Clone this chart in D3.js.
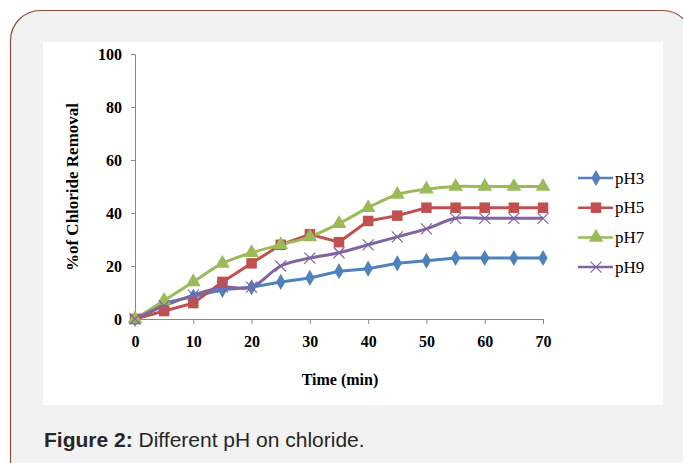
<!DOCTYPE html>
<html><head><meta charset="utf-8">
<script src="https://cdn.jsdelivr.net/npm/d3@7/dist/d3.min.js"></script>
<style>
html,body{margin:0;padding:0;background:#fff;}
svg{display:block;}
</style></head>
<body>
<svg id="chart" width="683" height="463"></svg>
<script>
const times = [0,5,10,15,20,25,30,35,40,45,50,55,60,65,70];
const pH3 = [0,6,8.5,11,12,14,15.5,18,19,21,22,23,23,23,23];
const pH5 = [0,3,6,14,21,28,32,29,37,39,42,42,42,42,42];
const pH7 = [0,7,14,21,25,28,31,36,42,47,49,50,50,50,50];
const pH9 = [0,5,9,12,12,20,23,25,28,31,34,38,38,38,38];
const seriesNames = ["pH3","pH5","pH7","pH9"];
const xTicks = [0,10,20,30,40,50,60,70];
const yTicks = [0,20,40,60,80,100];

const svg = d3.select("#chart");
// outer frame
svg.append("rect").attr("x",10.5).attr("y",10.5).attr("width",682).attr("height",480)
  .attr("rx",30).attr("ry",30).attr("fill","#f2f2f2").attr("stroke","#8a4a3c").attr("stroke-width",1.2);
// white panel
svg.append("rect").attr("x",43).attr("y",42).attr("width",620).attr("height",363).attr("fill","#fff");

const x = d3.scaleLinear().domain([0,70]).range([135,543]);
const y = d3.scaleLinear().domain([0,100]).range([319,54]);

const serif = "'Liberation Serif','Times New Roman',serif";

const yAxis = svg.append("g").attr("transform","translate(135,0)")
  .call(d3.axisLeft(y).tickValues(yTicks).tickSize(4).tickPadding(9));
const xAxis = svg.append("g").attr("transform","translate(0,319)")
  .call(d3.axisBottom(x).tickValues(xTicks).tickSize(5).tickPadding(12));
[yAxis,xAxis].forEach(a=>{
  a.select(".domain").attr("stroke","#888");
  a.selectAll(".tick line").attr("stroke","#888");
  a.selectAll("text").attr("font-family",serif).attr("font-weight","bold").attr("font-size",16).attr("fill","#000");
});

svg.append("text").attr("x",340).attr("y",385).attr("text-anchor","middle")
  .attr("font-family",serif).attr("font-weight","bold").attr("font-size",16).text("Time (min)");
svg.append("text").attr("transform","translate(78,187) rotate(-90)").attr("text-anchor","middle")
  .attr("font-family",serif).attr("font-weight","bold").attr("font-size",17).text("%of Chloride Removal");

const colors = ["#4f81bd","#c0504d","#9bbb59","#8064a2"];
const data = [pH3,pH5,pH7,pH9];
const curves = [d3.curveLinear,d3.curveLinear,d3.curveCatmullRom,d3.curveCatmullRom];
const symbols = [d3.symbolDiamond,d3.symbolSquare,d3.symbolTriangle,d3.symbolCross];
const symSize = [75,110,95,0];

function drawMarker(g, i, cx, cy){
  if(i===3){
    const s=5.5;
    g.append("path").attr("d",`M${cx-s},${cy-s}L${cx+s},${cy+s}M${cx-s},${cy+s}L${cx+s},${cy-s}`)
      .attr("stroke",colors[i]).attr("stroke-width",1.2).attr("fill","none");
  } else {
    g.append("path").attr("d",d3.symbol().type(symbols[i]).size(symSize[i])())
      .attr("transform",`translate(${cx},${cy})`).attr("fill",colors[i]);
  }
}

data.forEach((vals,i)=>{
  const line = d3.line().x((d,j)=>x(times[j])).y(d=>y(d)).curve(curves[i]);
  svg.append("path").datum(vals).attr("d",line).attr("fill","none")
    .attr("stroke",colors[i]).attr("stroke-width",3);
});
data.forEach((vals,i)=>{
  const g = svg.append("g");
  vals.forEach((v,j)=>drawMarker(g,i,x(times[j]),y(v)));
});

// legend
seriesNames.forEach((n,i)=>{
  const ly = 178 + i*29.7;
  const g = svg.append("g");
  g.append("line").attr("x1",578).attr("x2",613).attr("y1",ly).attr("y2",ly)
    .attr("stroke",colors[i]).attr("stroke-width",2.5);
  drawMarker(g,i,596,ly);
  g.append("text").attr("x",615).attr("y",ly+5.5).attr("font-family",serif)
    .attr("font-size",17).attr("fill","#000").text(n);
});

// caption
const cap = svg.append("text").attr("x",44).attr("y",447).attr("font-family","'Liberation Sans',Arial,sans-serif")
  .attr("font-size",21).attr("fill","#262626");
cap.append("tspan").attr("font-weight","bold").text("Figure 2:");
cap.append("tspan").text(" Different pH on chloride.");
</script>
</body></html>
